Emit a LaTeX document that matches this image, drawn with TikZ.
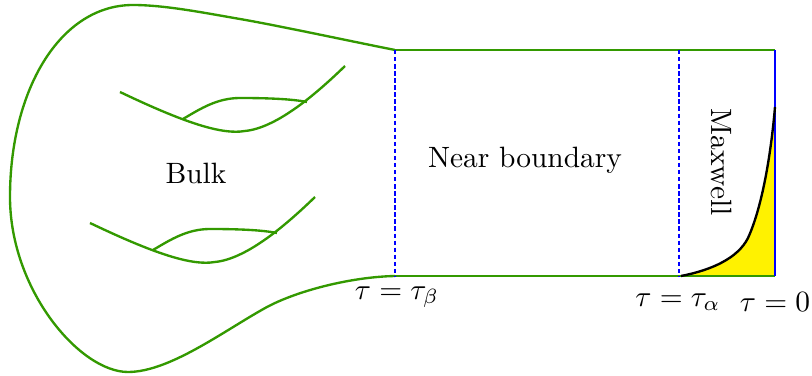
\documentclass[tikz,border=0pt]{standalone}
\usetikzlibrary{calc}
\definecolor{bulkgreen}{RGB}{51,153,0}
\tikzset{
  gline/.style={draw=bulkgreen, line width=0.8pt},
  bdash/.style={draw=blue, line width=0.9pt, dash pattern=on 1.5pt off 0.9pt},
  lbl/.style={inner sep=1pt, font=\normalsize}
}
\begin{document}
\begin{tikzpicture}[x=0.34pt,y=-0.34pt]
\useasboundingbox (0,0) rectangle (812,376);
% corners
\coordinate (bTL) at (395,50);
\coordinate (bBL) at (395,276);
\coordinate (aTL) at (679,50);
\coordinate (aBL) at (679,276);
\coordinate (TR) at (775,50);
\coordinate (BR) at (775,276);
\coordinate (cTop) at (775,107);
% yellow region under the Maxwell profile
\fill[yellow] (681,276) .. controls (712,270) and (738,258) .. (748,238)
  .. controls (760,212) and (770,165) .. (cTop) -- (BR) -- cycle;
% outer bulk boundary
\draw[gline] (bTL) .. controls (340,39) and (280,26) .. (240,19)
  .. controls (205,13) and (165,5) .. (133,5)
  .. controls (60,5) and (10,90) .. (10,197)
  .. controls (10,290) and (80,372) .. (128,372)
  .. controls (170,372) and (225,330) .. (267,307)
  .. controls (297,291) and (350,277) .. (bBL);
% rectangle edges
\draw[gline] (bTL) -- (TR);
\draw[gline] (bBL) -- (BR);
% blue lines
\draw[bdash] (bTL) -- (bBL);
\draw[bdash] (aTL) -- (aBL);
\draw[blue, line width=0.9pt] (TR) -- (BR);
% Maxwell profile curve
\draw[black, line width=0.8pt] (681,276) .. controls (712,270) and (738,258) .. (748,238)
  .. controls (760,212) and (770,165) .. (cTop);
% bulk squiggles
\foreach \dx/\dy in {0/0, -30/131} {
  \begin{scope}[shift={(\dx,\dy)}]
    \draw[gline] (120,92) .. controls (185,123) and (222,135) .. (245,131)
      .. controls (275,128) and (312,98) .. (345,66);
    \draw[gline] (183,119) .. controls (200,109) and (217,98) .. (240,98)
      .. controls (268,98) and (292,99) .. (307,102);
  \end{scope}
}
% labels
\node[lbl] (bulk) at (196,173) {Bulk};
\node[lbl] (near) at (525,160) {Near boundary};
\node[lbl, rotate=-90] (maxwell) at (722,162) {Maxwell};
\node[lbl] (tb) at (397,297) {$\tau=\tau_\beta$};
\node[lbl] (ta) at (678,302) {$\tau=\tau_\alpha$};
\node[lbl] (t0) at (775,302) {$\tau=0$};
\end{tikzpicture}
\end{document}
